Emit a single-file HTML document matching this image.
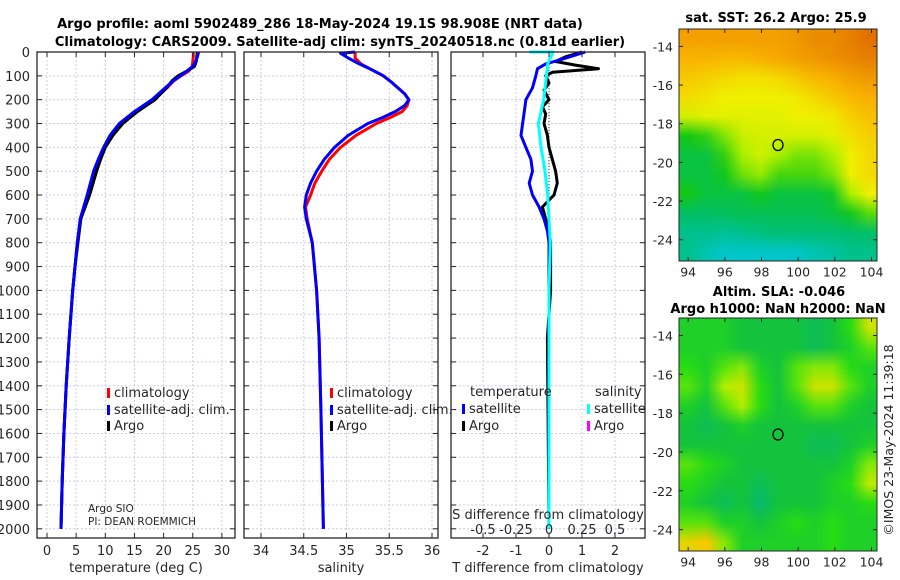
<!DOCTYPE html>
<html><head><meta charset="utf-8">
<style>
html,body{margin:0;padding:0;background:#fff;}
#wrap{position:relative;width:900px;height:580px;overflow:hidden;font-family:"DejaVu Sans","Liberation Sans",sans-serif;}
canvas{position:absolute;}
svg{position:absolute;left:0;top:0;}
</style></head>
<body>
<div id="wrap">
<canvas id="sstMap" width="11" height="12" style="left:679px;top:29px;width:198px;height:232px"></canvas>
<canvas id="slaMap" width="11" height="12" style="left:679px;top:318px;width:198px;height:233px"></canvas>
<svg id="chart" width="900" height="580" xmlns="http://www.w3.org/2000/svg"></svg>
</div>
<script>
// ---- data ----
const depthsT = [0,20,40,60,80,100,120,150,200,250,300,350,400,450,500,600,700,800,900,1000,1200,1400,1600,1800,2000];
const tempArgo = [25.8,25.7,25.6,25.3,24,22.5,21.5,20.5,18.5,15.5,13,11.3,10,9.2,8.5,7.3,5.8,5.3,4.8,4.4,3.8,3.3,2.9,2.6,2.4];
const tempClim = [25.1,25.1,25.0,24.9,24.3,23,21.8,20.6,18.3,15.3,12.7,11,9.9,9.0,8.2,7.0,5.8,5.2,4.8,4.4,3.8,3.3,2.9,2.6,2.4];
const tempSat = [26,25.8,25.5,25,24,22.9,21.7,20.3,18,15,12.4,10.8,9.7,8.8,8.0,6.9,5.7,5.2,4.8,4.4,3.8,3.3,2.9,2.6,2.4];
const depthsS = [0,25,50,75,100,125,150,175,200,225,250,275,300,350,400,450,500,550,600,650,700,800,1000,1200,1500,2000];
const salClim = [35.1,35.1,35.17,35.3,35.43,35.52,35.6,35.68,35.73,35.71,35.62,35.48,35.32,35.08,34.9,34.77,34.68,34.6,34.55,34.52,34.54,34.6,34.65,34.68,34.7,34.73];
const depthsSsat = [0,5,25,50,75,100,125,150,175,200,225,250,275,300,350,400,450,500,550,600,650,700,800,1000,1200,1500,2000];
const salSat = [35.1,34.93,35.02,35.15,35.3,35.43,35.52,35.6,35.68,35.73,35.68,35.57,35.42,35.25,35.02,34.86,34.74,34.65,34.58,34.53,34.51,34.53,34.6,34.65,34.68,34.7,34.73];
const depthsDA = [0,20,40,55,70,85,100,130,160,200,230,260,300,350,400,450,500,550,600,650,700,750,800,1000,1200,1500,2000];
const dTArgo = [1.0,0.5,0.2,0.8,1.5,0.1,-0.1,0.0,-0.15,0.0,-0.2,-0.1,-0.15,-0.05,0.0,0.1,0.2,0.25,0.15,-0.2,-0.1,0.0,0.05,0.05,-0.05,-0.03,0.0];
const depthsDB = [0,30,50,70,100,150,200,250,300,350,400,450,500,550,600,650,700,750,800,1000,2000];
const dTSat = [1.1,0.4,-0.1,-0.35,-0.4,-0.5,-0.7,-0.75,-0.8,-0.85,-0.7,-0.55,-0.5,-0.6,-0.5,-0.3,-0.15,-0.05,0,0,0];
const depthsDC = [0,0,50,100,200,300,400,500,600,700,800,1000,2000];
const dSSat = [-0.15,0.03,-0.01,-0.02,-0.04,-0.08,-0.06,-0.03,-0.01,0,0.01,0,0];
const depthTicks = [0,100,200,300,400,500,600,700,800,900,1000,1100,1200,1300,1400,1500,1600,1700,1800,1900,2000];
const tTicks = [0,5,10,15,20,25,30];
const sTicks = [34,34.5,35,35.5,36];
const sTickLabels = ["34","34.5","35","35.5","36"];
const dTTicks = [-2,-1,0,1,2];
const dSTicks = [-0.5,-0.25,0,0.25,0.5];
const dSTickLabels = ["-0.5","-0.25","0","0.25","0.5"];
const lonTicks = [94,96,98,100,102,104];
const latTicks = [-14,-16,-18,-20,-22,-24];
const floatLon = 98.9, floatLat = -19.1;
const sstGrid = [
[0.8,0.8,0.8,0.8,0.8,0.8,0.82,0.85,0.85,0.88,0.92],
[0.75,0.75,0.74,0.74,0.76,0.78,0.8,0.82,0.84,0.86,0.88],
[0.7,0.68,0.66,0.64,0.64,0.66,0.7,0.74,0.76,0.8,0.82],
[0.65,0.63,0.6,0.6,0.6,0.6,0.62,0.66,0.7,0.74,0.76],
[0.56,0.58,0.58,0.58,0.58,0.58,0.6,0.6,0.62,0.68,0.72],
[0.35,0.38,0.46,0.54,0.56,0.56,0.56,0.56,0.58,0.64,0.68],
[0.3,0.3,0.38,0.5,0.55,0.5,0.45,0.45,0.5,0.6,0.66],
[0.3,0.3,0.34,0.44,0.48,0.4,0.4,0.4,0.45,0.6,0.65],
[0.35,0.3,0.3,0.3,0.34,0.3,0.3,0.3,0.33,0.5,0.6],
[0.26,0.26,0.27,0.28,0.28,0.28,0.28,0.28,0.3,0.34,0.42],
[0.2,0.2,0.18,0.2,0.22,0.24,0.24,0.24,0.24,0.25,0.26],
[0.2,0.14,0.1,0.1,0.1,0.1,0.1,0.14,0.16,0.2,0.2]];
const slaGrid = [
[0.5,0.5,0.5,0.45,0.45,0.45,0.45,0.4,0.45,0.55,0.75],
[0.5,0.5,0.5,0.45,0.45,0.45,0.45,0.4,0.45,0.5,0.6],
[0.55,0.5,0.6,0.65,0.5,0.45,0.6,0.65,0.65,0.55,0.5],
[0.6,0.5,0.7,0.75,0.55,0.45,0.6,0.75,0.75,0.6,0.5],
[0.5,0.45,0.6,0.7,0.55,0.45,0.5,0.6,0.6,0.5,0.45],
[0.45,0.4,0.45,0.5,0.45,0.45,0.45,0.45,0.45,0.45,0.45],
[0.45,0.45,0.45,0.45,0.45,0.45,0.45,0.4,0.4,0.45,0.5],
[0.6,0.55,0.5,0.45,0.45,0.45,0.45,0.45,0.45,0.5,0.65],
[0.55,0.5,0.45,0.45,0.4,0.45,0.45,0.45,0.5,0.55,0.72],
[0.5,0.45,0.4,0.45,0.35,0.45,0.45,0.45,0.5,0.5,0.55],
[0.6,0.6,0.5,0.5,0.45,0.5,0.55,0.5,0.55,0.5,0.5],
[0.8,0.85,0.65,0.5,0.5,0.5,0.5,0.5,0.55,0.5,0.5]];

// ---- helpers ----
const NS="http://www.w3.org/2000/svg";
const svg=document.getElementById('chart');
function el(tag,attrs,parent){const e=document.createElementNS(NS,tag);for(const k in attrs)e.setAttribute(k,attrs[k]);(parent||svg).appendChild(e);return e;}
function txt(s,x,y,attrs){const t=el('text',Object.assign({x:x,y:y,'font-size':13,fill:'#262626'},attrs||{}));t.textContent=s;return t;}
const yD=d=>52+d*0.2384;
const xT=v=>47+v*5.83;
const xS=v=>261+(v-34)*85.5;
const xDT=v=>549+v*33;
const xDS=v=>549+v*132;
const PT=52,PB=538;
const panels=[{l:37,r:235},{l:244,r:438},{l:451,r:645}];

function grid(p,xs){
  depthTicks.forEach(d=>{const g=el('line',{x1:p.l,x2:p.r,y1:yD(d),y2:yD(d),stroke:'#c8cde8','stroke-width':1,'stroke-dasharray':'2,2'});
  });
  xs.forEach(x=>{const g=el('line',{x1:x,x2:x,y1:PT,y2:PB,stroke:'#c8cde8','stroke-width':1,'stroke-dasharray':'2,2'});
  });
}
function frame(p,xs){
  const r=el('rect',{x:p.l,y:PT,width:p.r-p.l,height:PB-PT,fill:'none',stroke:'#262626','stroke-width':1.3});
  
  depthTicks.forEach(d=>{el('line',{x1:p.l,x2:p.l+5,y1:yD(d),y2:yD(d),stroke:'#262626'});el('line',{x1:p.r-5,x2:p.r,y1:yD(d),y2:yD(d),stroke:'#262626'});});
  xs.forEach(x=>{el('line',{x1:x,x2:x,y1:PB,y2:PB-5,stroke:'#262626'});el('line',{x1:x,x2:x,y1:PT,y2:PT+5,stroke:'#262626'});});
}
function line(xf,depths,vals,color,name,w){
  const pts=vals.map((v,i)=>xf(v).toFixed(1)+','+yD(depths[i]).toFixed(1)).join(' ');
  const p=el('polyline',{points:pts,fill:'none',stroke:color,'stroke-width':w||3,'stroke-linejoin':'round'});
  
}

// ---- panel 1: temperature ----
const p1=panels[0];
grid(p1,tTicks.map(xT));
line(xT,depthsT,tempClim,'#ff0000','temperature-climatology-line');
line(xT,depthsT,tempArgo,'#000000','temperature-argo-line');
line(xT,depthsT,tempSat,'#0000ff','temperature-satellite-line');
frame(p1,tTicks.map(xT));
depthTicks.forEach(d=>{const t=txt(String(d),30,yD(d)+5,{'text-anchor':'end'});});
tTicks.forEach(v=>{const t=txt(String(v),xT(v),555,{'text-anchor':'middle'});});
txt('temperature (deg C)',136,572,{'text-anchor':'middle'});

// ---- panel 2: salinity ----
const p2=panels[1];
grid(p2,sTicks.map(xS));
line(xS,depthsS,salClim.map((v,i)=>v+((depthsS[i]>=250&&depthsS[i]<=600)?0.03:0)),'#ff0000','salinity-climatology-line');
line(xS,depthsSsat,salSat,'#0000ff','salinity-satellite-line');
frame(p2,sTicks.map(xS));
sTicks.forEach((v,i)=>{const t=txt(sTickLabels[i],xS(v),555,{'text-anchor':'middle'});});
txt('salinity',341,572,{'text-anchor':'middle'});

// ---- panel 3: differences ----
const p3=panels[2];
grid(p3,dTTicks.map(xDT));
el('line',{x1:549,x2:549,y1:PT,y2:yD(700),stroke:'#333','stroke-width':1,'stroke-dasharray':'1,2'});
line(xDT,depthsDA,dTArgo,'#000000','temp-diff-argo-line');
line(xDT,depthsDB,dTSat,'#0000ff','temp-diff-satellite-line');
line(xDS,depthsDC,dSSat,'#00ffff','sal-diff-satellite-line');
frame(p3,dTTicks.map(xDT));
dTTicks.forEach(v=>{const t=txt(String(v),xDT(v),555,{'text-anchor':'middle'});});
dSTicks.forEach((v,i)=>{const t=txt(dSTickLabels[i],xDS(v),534,{'text-anchor':'middle'});});
txt('S difference from climatology',548,519,{'text-anchor':'middle'});
txt('T difference from climatology',548,572,{'text-anchor':'middle'});

// ---- legends ----
function legItem(x,y,color,label,name){
  el('rect',{x:x-3,y:y-9,width:3,height:10,fill:color});
  const t=txt(label,x+4,y);
}
legItem(110,397,'#ff0000','climatology','legend-climatology');
legItem(110,414,'#0000ff','satellite-adj. clim.','legend-satellite-adj');
legItem(110,430,'#000000','Argo','legend-argo');
legItem(333,397,'#ff0000','climatology','legend-climatology-sal');
legItem(333,414,'#0000ff','satellite-adj. clim.','legend-satellite-adj-sal');
legItem(333,430,'#000000','Argo','legend-argo-sal');
txt('temperature',470,396);
legItem(465,413,'#0000ff','satellite','legend-temp-satellite');
legItem(465,430,'#000000','Argo','legend-temp-argo');
txt('salinity',595,396);
legItem(590,413,'#00ffff','satellite','legend-sal-satellite');
legItem(590,430,'#ff00ff','Argo','legend-sal-argo');
txt('Argo SIO',88,512,{'font-size':10.5});
txt('PI: DEAN ROEMMICH',88,525,{'font-size':10.5});

// ---- titles ----
txt('Argo profile: aoml 5902489_286 18-May-2024 19.1S 98.908E (NRT data)',320,28,{'text-anchor':'middle','font-weight':'bold',fill:'#000'});
txt('Climatology: CARS2009. Satellite-adj clim: synTS_20240518.nc (0.81d earlier)',340,46,{'text-anchor':'middle','font-weight':'bold',fill:'#000'});

// ---- maps ----
function sstColor(v){
  const stops=[[0.05,[0,200,230]],[0.25,[0,190,110]],[0.35,[20,200,20]],[0.5,[170,240,0]],[0.6,[240,240,0]],[0.75,[250,180,0]],[0.95,[220,100,0]]];
  return interp(stops,v);
}
function slaColor(v){
  const stops=[[0.3,[0,180,140]],[0.45,[20,195,60]],[0.55,[40,220,20]],[0.7,[180,240,0]],[0.85,[250,200,0]]];
  return interp(stops,v);
}
function interp(stops,v){
  if(v<=stops[0][0])return stops[0][1];
  for(let i=1;i<stops.length;i++){if(v<=stops[i][0]){const a=stops[i-1],b=stops[i],f=(v-a[0])/(b[0]-a[0]);return a[1].map((c,k)=>Math.round(c+(b[1][k]-c)*f));}}
  return stops[stops.length-1][1];
}
function paint(id,grid,cm){
  const c=document.getElementById(id).getContext('2d');const img=c.createImageData(11,12);
  grid.forEach((row,r)=>row.forEach((v,col)=>{const rgb=cm(v);const i=(r*11+col)*4;img.data[i]=rgb[0];img.data[i+1]=rgb[1];img.data[i+2]=rgb[2];img.data[i+3]=255;}));
  c.putImageData(img,0,0);
}
paint('sstMap',sstGrid,sstColor);
paint('slaMap',slaGrid,slaColor);
function mapAxes(top,bottom,name){
  const L=679,R=877,lonX=lon=>L+(lon-93.5)*(R-L)/10.8;
  const latY=lat=>top+(-13.1-lat)*(bottom-top)/12;
  const f=el('rect',{x:L,y:top,width:R-L,height:bottom-top,fill:'none',stroke:'#262626','stroke-width':1});
  
  lonTicks.forEach(lon=>{const x=lonX(lon);el('line',{x1:x,x2:x,y1:bottom,y2:bottom-4,stroke:'#262626'});el('line',{x1:x,x2:x,y1:top,y2:top+4,stroke:'#262626'});
    const t=txt(String(lon),x,bottom+6,{'text-anchor':'middle','dominant-baseline':'hanging','font-size':12.5});});
  latTicks.forEach(lat=>{const y=latY(lat);el('line',{x1:L,x2:L+4,y1:y,y2:y,stroke:'#262626'});el('line',{x1:R-4,x2:R,y1:y,y2:y,stroke:'#262626'});
    const t=txt(String(lat),673,y+5,{'text-anchor':'end','font-size':12.5});});
  const c=el('ellipse',{cx:lonX(floatLon),cy:latY(floatLat),rx:5,ry:5.5,fill:'none',stroke:'#000','stroke-width':1.3});
  
}
mapAxes(29,261,'sst-map');
mapAxes(318,551,'sla-map');
txt('sat. SST: 26.2 Argo: 25.9',776,22,{'text-anchor':'middle','font-weight':'bold',fill:'#000'});
txt('Altim. SLA: -0.046',779,296,{'text-anchor':'middle','font-weight':'bold',fill:'#000'});
txt('Argo h1000: NaN h2000: NaN',778,313,{'text-anchor':'middle','font-weight':'bold',fill:'#000'});
txt('©IMOS 23-May-2024 11:39:18',0,0,{'text-anchor':'middle','transform':'translate(893,440) rotate(-90)','font-size':12.5});
</script>
</body></html>
